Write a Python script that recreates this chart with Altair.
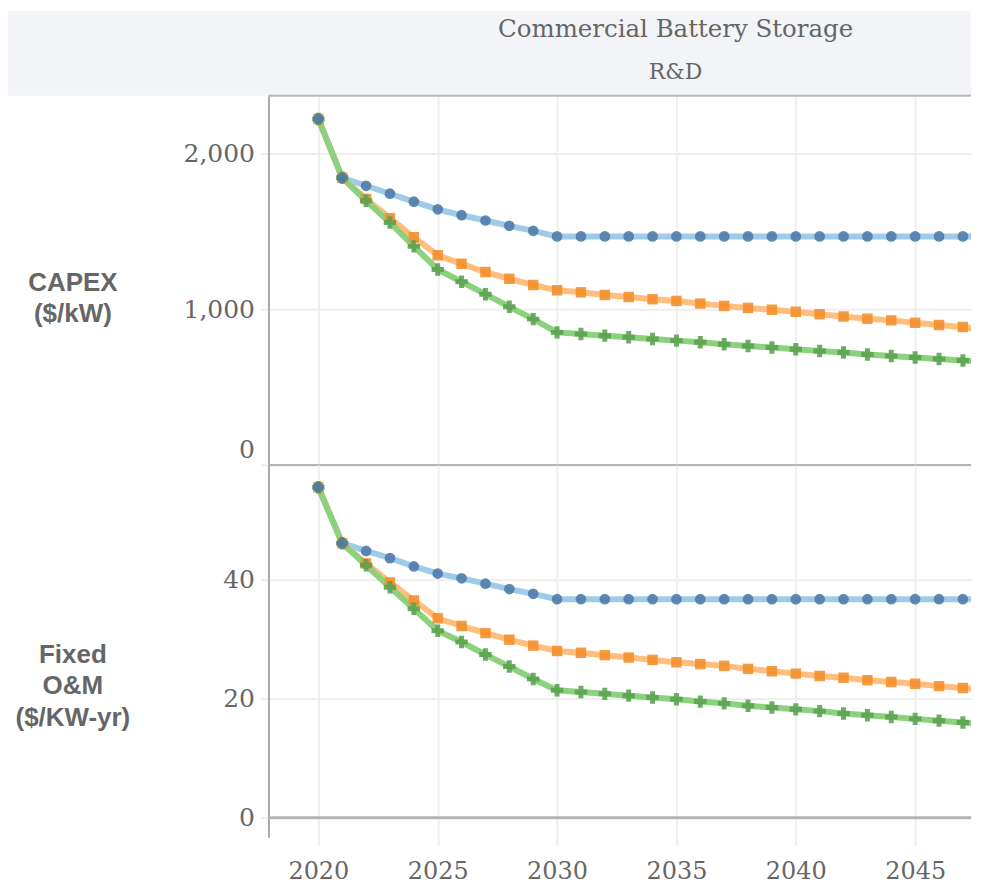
import altair as alt
import pandas as pd

years = [2020, 2021, 2022, 2023, 2024, 2025, 2026, 2027, 2028, 2029, 2030,
         2031, 2032, 2033, 2034, 2035, 2036, 2037, 2038, 2039, 2040,
         2041, 2042, 2043, 2044, 2045, 2046, 2047, 2048]

capex_conservative = [2221, 1843, 1792, 1741, 1690, 1641, 1603, 1569, 1535, 1503, 1467,
                      1467, 1467, 1467, 1467, 1467, 1467, 1467, 1467, 1467, 1467,
                      1467, 1467, 1467, 1467, 1467, 1467, 1467, 1467]
capex_moderate = [2221, 1843, 1707, 1584, 1461, 1346, 1291, 1238, 1195, 1155, 1121,
                  1108, 1091, 1078, 1064, 1053, 1036, 1021, 1008, 996, 983,
                  968, 953, 938, 928, 913, 898, 885, 860]
capex_advanced = [2221, 1843, 1696, 1556, 1403, 1255, 1176, 1096, 1015, 936, 851,
                  841, 830, 820, 809, 798, 788, 775, 764, 754, 743,
                  732, 722, 709, 699, 690, 680, 671, 661]

om_conservative = [55.5, 46.1, 44.8, 43.6, 42.2, 41.0, 40.2, 39.3, 38.4, 37.6, 36.7,
                   36.7, 36.7, 36.7, 36.7, 36.7, 36.7, 36.7, 36.7, 36.7, 36.7,
                   36.7, 36.7, 36.7, 36.7, 36.7, 36.7, 36.7, 36.7]
om_moderate = [55.5, 46.1, 42.7, 39.5, 36.5, 33.5, 32.2, 31.0, 29.9, 28.9, 28.0,
               27.7, 27.3, 26.9, 26.5, 26.1, 25.8, 25.5, 25.0, 24.6, 24.2,
               23.8, 23.5, 23.1, 22.8, 22.5, 22.1, 21.8, 21.4]
om_advanced = [55.5, 46.1, 42.4, 38.7, 35.1, 31.4, 29.5, 27.4, 25.4, 23.3, 21.4,
               21.1, 20.8, 20.5, 20.2, 19.9, 19.5, 19.2, 18.8, 18.5, 18.2,
               17.9, 17.5, 17.2, 16.9, 16.6, 16.3, 16.0, 15.7]

scenarios = ["Conservative", "Moderate", "Advanced"]
line_colors = {"Conservative": "#a0cbe8", "Moderate": "#ffbe7d", "Advanced": "#8cd17d"}
point_colors = {"Conservative": "#4e79a7", "Moderate": "#f28e2b", "Advanced": "#59a14f"}
point_shapes = {"Conservative": "circle", "Moderate": "square", "Advanced": "cross"}
point_sizes = {"Conservative": 115, "Moderate": 110, "Advanced": 155}

x_ticks = [2020, 2025, 2030, 2035, 2040, 2045]
capex_ticks = [0, 1000, 2000]
om_ticks = [0, 20, 40]

title_text = "Commercial Battery Storage"
subtitle_text = "R&D"

GRID = "#eeeeee"
TXT = "#666666"
SERIF = "DejaVu Serif"
SANS = "Liberation Sans"
W = 704
X_DOMAIN = [2017.91, 2047.34]


def make_df(cons, mod, adv):
    rows = []
    for scen, vals in zip(scenarios, [cons, mod, adv]):
        for yr, v in zip(years, vals):
            rows.append({"year": yr, "scenario": scen, "value": v})
    return pd.DataFrame(rows)


capex_df = make_df(capex_conservative, capex_moderate, capex_advanced)
om_df = make_df(om_conservative, om_moderate, om_advanced)
one = pd.DataFrame({"k": [0]})


def panel(df, ydomain, yticks, ytitle, title_y, show_x, flush, zero_width):
    xenc = alt.X(
        "year:Q",
        scale=alt.Scale(domain=X_DOMAIN, nice=False, zero=False),
        axis=alt.Axis(
            values=x_ticks, format="d", title=None, grid=True, gridColor=GRID,
            gridWidth=2, domain=False, labels=show_x, ticks=show_x,
            tickColor=GRID, tickWidth=2, tickSize=8, labelFont=SERIF,
            labelFontSize=24, labelColor=TXT, labelPadding=14,
        ),
    )
    yenc = alt.Y(
        "value:Q",
        scale=alt.Scale(domain=ydomain, nice=False, zero=False),
        axis=alt.Axis(
            values=yticks, format=",d", title=ytitle, titleAngle=0,
            titleAlign="center", titleBaseline="middle", titleX=-196.5,
            titleY=title_y, titleFont=SANS, titleFontSize=26,
            titleFontWeight="bold", titleColor=TXT, titleLineHeight=31.5,
            grid=True, gridColor=GRID, gridWidth=2, domain=True,
            domainColor="#aaaaaa", domainWidth=2, ticks=True, tickColor=GRID,
            tickWidth=2, tickSize=8, labelFont=SERIF, labelFontSize=25,
            labelColor=TXT, labelPadding=6, labelFlush=flush,
            labelFlushOffset=-2,
        ),
    )
    layers = []
    zero = alt.Chart(one).mark_rule(color="#b3b3b3", strokeWidth=zero_width).encode(
        y=alt.datum(0)
    )
    layers.append(zero)
    for scen in scenarios:
        layers.append(
            alt.Chart(df[df.scenario == scen]).mark_line(
                color=line_colors[scen], strokeWidth=6, clip=True
            ).encode(x=xenc, y=yenc)
        )
    for scen in ["Moderate", "Advanced", "Conservative"]:
        layers.append(
            alt.Chart(df[df.scenario == scen]).mark_point(
                shape=point_shapes[scen], filled=True, size=point_sizes[scen],
                color=point_colors[scen], opacity=0.88, clip=True
            ).encode(x=xenc, y=yenc)
        )
    return layers


capex_layers = panel(capex_df, [0, 2370], capex_ticks, ["CAPEX", "($/kW)"], 186.7,
                     False, True, 2)

band = alt.Chart(one).mark_rect(color="#f3f4f8").encode(
    x=alt.value(-261), x2=alt.value(W), y=alt.value(-85), y2=alt.value(0)
)
top_border = alt.Chart(one).mark_rule(color="#b8b8b8", strokeWidth=2).encode(
    y=alt.value(0)
)
t1 = alt.Chart(one).mark_text(
    text=title_text, font=SERIF, fontSize=24.5, color=TXT, align="center",
    baseline="alphabetic"
).encode(x=alt.value(408), y=alt.value(-59))
t2 = alt.Chart(one).mark_text(
    text=subtitle_text, font=SERIF, fontSize=22, color=TXT, align="center",
    baseline="alphabetic"
).encode(x=alt.value(408), y=alt.value(-17))

top = alt.layer(band, t1, t2, *capex_layers, top_border).properties(width=W, height=370)

om_layers = panel(om_df, [-3.27, 59.24], om_ticks, ["Fixed", "O&M", "($/KW-yr)"], 190,
                  True, False, 3)
bottom = alt.layer(*om_layers).properties(width=W, height=373)

chart = alt.vconcat(top, bottom, spacing=0, bounds="flush").properties(
    padding={"left": 0, "top": 2, "right": 0, "bottom": 0}
).configure_view(stroke=None)

chart.save("out.html", embed_options={"renderer": "svg", "actions": False})
